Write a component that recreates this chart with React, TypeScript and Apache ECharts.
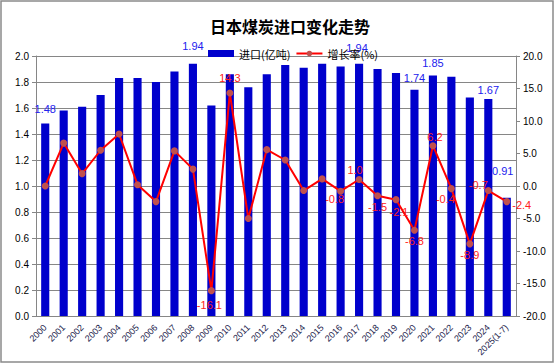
import React, { useEffect, useRef } from "react";
import * as echarts from "echarts";

const categories = [
  "2000", "2001", "2002", "2003", "2004", "2005", "2006", "2007", "2008", "2009",
  "2010", "2011", "2012", "2013", "2014", "2015", "2016", "2017", "2018", "2019",
  "2020", "2021", "2022", "2023", "2024", "2025(1-7)",
];

const imports = [
  1.48, 1.58, 1.61, 1.70, 1.83, 1.83, 1.80, 1.88, 1.94, 1.62,
  1.86, 1.76, 1.86, 1.93, 1.91, 1.94, 1.92, 1.94, 1.90, 1.87,
  1.74, 1.85, 1.84, 1.68, 1.67, 0.91,
];

const growth = [
  0.0, 6.6, 1.9, 5.5, 8.0, 0.2, -2.4, 5.4, 2.6, -16.1,
  14.3, -5.0, 5.6, 4.0, -0.7, 1.1, -0.8, 1.0, -1.5, -2.1,
  -6.8, 6.2, -0.4, -8.9, -0.7, -2.4,
];

const leftTicks = { min: 0, max: 2, interval: 0.2 };
const rightTicks = { min: -20, max: 20, interval: 5 };

// label placement (not data): index -> offset [dx, dy]
const barLabelOffsets: Record<number, [number, number]> = {
  0: [0, -9.5],
  8: [0, -12],
  17: [-2, -10.5],
  20: [0, -6.5],
  21: [0, -7.5],
  24: [0, -3.5],
  25: [-4, -21.5],
};
const lineLabelOffsets: Record<number, [number, number]> = {
  9: [-2, 14],
  10: [0, -15],
  16: [-6, 8],
  17: [-4, -9.5],
  18: [0, 11],
  19: [3, 12],
  20: [0, 11],
  21: [2, -9],
  22: [-6, 10],
  23: [0, 11],
  24: [-10, -6],
  25: [15, 3],
};

const NUM_FONT = "Liberation Sans, Arial, sans-serif";
const CJK_FONT = "Noto Sans CJK SC, sans-serif";

export default function App() {
  const ref = useRef<HTMLDivElement>(null);
  useEffect(() => {
    document.body.style.margin = "0";
    if (!ref.current) return;
    const chart = echarts.init(ref.current, null, { renderer: "svg" });

    const barData = imports.map((v, i) => {
      const off = barLabelOffsets[i];
      return off
        ? {
            value: v,
            label: {
              show: true,
              position: "top",
              distance: 0,
              offset: off,
              formatter: (p: any) => Number(p.value).toFixed(2),
            },
          }
        : { value: v };
    });
    const lineData = growth.map((v, i) => {
      const off = lineLabelOffsets[i];
      return off
        ? {
            value: v,
            label: {
              show: true,
              position: "inside",
              offset: off,
              formatter: (p: any) => Number(p.value).toFixed(1),
            },
          }
        : { value: v };
    });

    chart.setOption({
      animation: false,
      backgroundColor: "#ffffff",
      title: {
        text: "日本煤炭进口变化走势",
        left: 205,
        top: 13,
        textStyle: {
          fontFamily: CJK_FONT,
          fontSize: 16,
          fontWeight: "bold",
          color: "#000000",
        },
      },
      legend: {
        left: 203,
        top: 43,
        itemWidth: 26,
        itemHeight: 7,
        itemGap: 5,
        textStyle: { fontFamily: CJK_FONT, fontSize: 11, color: "#000000" },
        data: [
          { name: "进口(亿吨)", icon: "rect" },
          { name: "增长率(%)" },
        ],
      },
      graphic: [
        {
          type: "rect",
          shape: { x: 1, y: 1, width: 552, height: 361 },
          style: { fill: "none", stroke: "#8a8a8a", lineWidth: 1.5 },
          silent: true,
        },
      ],
      grid: { left: 36, right: 40, top: 56, bottom: 48 },
      xAxis: {
        type: "category",
        data: categories,
        axisLine: { show: true, lineStyle: { color: "#868686", width: 1 } },
        axisTick: { show: false },
        axisLabel: {
          interval: 0,
          rotate: 45,
          margin: 10,
          fontSize: 9,
          fontFamily: NUM_FONT,
          color: "#1c1c4c",
        },
      },
      yAxis: [
        {
          type: "value",
          min: leftTicks.min,
          max: leftTicks.max,
          interval: leftTicks.interval,
          axisLine: { show: true, lineStyle: { color: "#868686", width: 1 } },
          axisTick: { show: true, length: 4, lineStyle: { color: "#868686" } },
          splitLine: { show: true, lineStyle: { color: "#868686", width: 1 } },
          axisLabel: {
            margin: 7,
            fontSize: 10,
            fontFamily: NUM_FONT,
            color: "#000000",
            formatter: (v: number) => v.toFixed(1),
          },
        },
        {
          type: "value",
          min: rightTicks.min,
          max: rightTicks.max,
          interval: rightTicks.interval,
          position: "right",
          axisLine: { show: true, lineStyle: { color: "#868686", width: 1 } },
          axisTick: { show: true, length: 4, lineStyle: { color: "#868686" } },
          splitLine: { show: false },
          axisLabel: {
            margin: 7,
            fontSize: 10,
            fontFamily: NUM_FONT,
            color: "#000000",
            formatter: (v: number) => v.toFixed(1),
          },
        },
      ],
      series: [
        {
          name: "进口(亿吨)",
          type: "bar",
          yAxisIndex: 0,
          barWidth: "44%",
          data: barData,
          itemStyle: { color: "#0000CC" },
          label: {
            show: false,
            fontSize: 11,
            fontFamily: NUM_FONT,
            color: "#2222EE",
          },
          z: 2,
        },
        {
          name: "增长率(%)",
          type: "line",
          yAxisIndex: 1,
          data: lineData,
          symbol: "circle",
          symbolSize: 7,
          lineStyle: { color: "#FF0000", width: 2 },
          itemStyle: { color: "#C0504D" },
          label: {
            show: false,
            fontSize: 11,
            fontFamily: NUM_FONT,
            color: "#FF2020",
          },
          z: 3,
        },
      ],
    });
    return () => chart.dispose();
  }, []);
  return <div ref={ref} style={{ width: 556, height: 364 }} />;
}
